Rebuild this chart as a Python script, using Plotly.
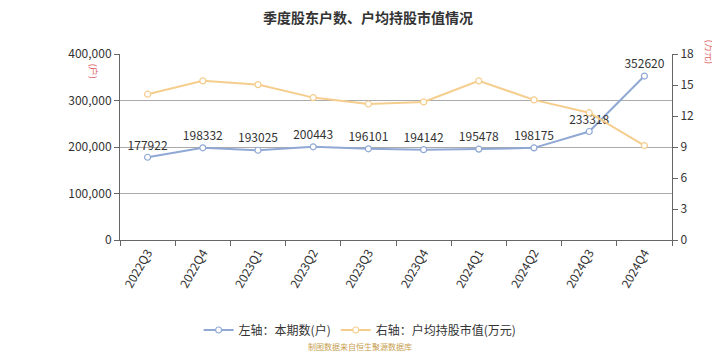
import plotly.graph_objects as go

quarters = ["2022Q3", "2022Q4", "2023Q1", "2023Q2", "2023Q3", "2023Q4",
            "2024Q1", "2024Q2", "2024Q3", "2024Q4"]
holders = [177922, 198332, 193025, 200443, 196101, 194142, 195478, 198175, 233318, 352620]
avg_value = [14.11, 15.40, 15.04, 13.78, 13.16, 13.36, 15.40, 13.56, 12.32, 9.14]

FONT = "Noto Sans CJK SC"
BLUE = "#8fa8d4"
ORANGE = "#f5cd8c"

fig = go.Figure()
fig.add_trace(go.Scatter(
    x=quarters, y=holders, name="左轴：本期数(户)", mode="lines+markers+text",
    line=dict(color=BLUE, width=2),
    marker=dict(symbol="circle", size=6, color="white", line=dict(color=BLUE, width=1.2)),
    text=[str(v) for v in holders], textposition="top center",
    textfont=dict(size=12, color="#333333", family=FONT),
    yaxis="y",
))
fig.add_trace(go.Scatter(
    x=quarters, y=avg_value, name="右轴：户均持股市值(万元)", mode="lines+markers",
    line=dict(color=ORANGE, width=2),
    marker=dict(symbol="circle", size=6, color="white", line=dict(color=ORANGE, width=1.2)),
    yaxis="y2",
))

fig.update_layout(
    width=720, height=360,
    margin=dict(l=112, r=56, t=46, b=128),
    paper_bgcolor="white", plot_bgcolor="white",
    font=dict(family=FONT, size=12, color="#333333"),
    title=dict(text="<b>季度股东户数、户均持股市值情况</b>", x=0.5, xanchor="center",
               y=0.972, yanchor="middle", font=dict(size=14, color="#333333", family=FONT)),
    xaxis=dict(type="category", range=[-0.5, 9.5], tickangle=-60, tickson="boundaries",
               ticks="outside", ticklen=5, tickcolor="#666666",
               showline=True, linecolor="#666666", linewidth=1, showgrid=False,
               tickfont=dict(size=12, color="#333333")),
    yaxis=dict(range=[0, 400000], tickvals=[0, 100000, 200000, 300000, 400000],
               ticktext=["0", "100,000", "200,000", "300,000", "400,000"],
               ticks="outside", ticklen=5, tickcolor="#666666",
               showline=True, linecolor="#666666", linewidth=1,
               showgrid=True, gridcolor="#aaaaaa", gridwidth=1, zeroline=False,
               tickfont=dict(size=12, color="#333333")),
    yaxis2=dict(range=[0, 18], tickvals=[0, 3, 6, 9, 12, 15, 18], overlaying="y", side="right",
                ticks="outside", ticklen=5, tickcolor="#666666",
                showline=True, linecolor="#666666", linewidth=1,
                showgrid=False, zeroline=False,
                tickfont=dict(size=12, color="#333333")),
    legend=dict(orientation="h", x=0.435, xanchor="center", y=-0.484, yanchor="middle",
                font=dict(size=12, color="#333333"), bgcolor="rgba(0,0,0,0)"),
    showlegend=True,
)

fig.add_annotation(text="(户)", xref="paper", yref="paper", x=-0.063, y=0.957,
                   showarrow=False, textangle=90, font=dict(size=9, color="#e06060"))
fig.add_annotation(text="(万元)", xref="paper", yref="paper", x=1.083, y=1.085,
                   showarrow=False, textangle=90, font=dict(size=9, color="#e06060"))
fig.add_annotation(text="制图数据来自恒生聚源数据库", xref="paper", yref="paper", x=0.435, y=-0.613,
                   showarrow=False, font=dict(size=8, color="#c8a050"))

fig.write_html("out.html")
